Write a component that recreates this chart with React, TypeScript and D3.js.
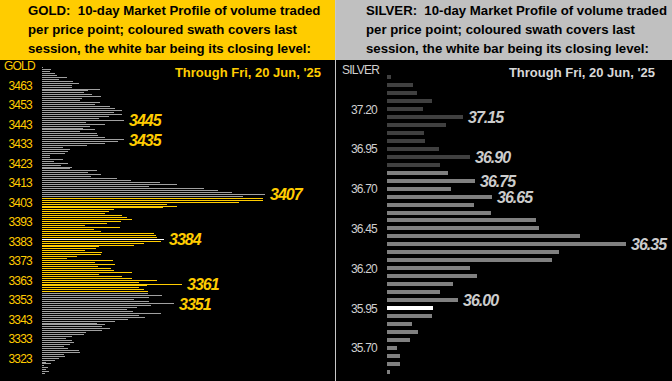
import React from "react";
import * as d3 from "d3";

const W = 672;
const H = 381;

// GOLD: volume per $1 price level, from 3472 (top) down to 3315 (bottom)
const goldTop = 3472;
const goldVolumes = [
  1, 9, 8, 13, 15, 25, 17, 31, 37, 30,
  30, 58, 46, 42, 50, 59, 40, 38, 58, 53,
  68, 73, 80, 72, 80, 67, 57, 82, 44, 63,
  48, 41, 53, 38, 55, 56, 63, 82, 76, 63,
  45, 21, 28, 26, 23, 8, 8, 21, 12, 26,
  19, 30, 28, 55, 46, 59, 49, 75, 89, 118,
  135, 107, 162, 176, 190, 223, 201, 221, 221, 197,
  125, 135, 121, 72, 67, 63, 80, 85, 90, 79,
  65, 43, 78, 52, 59, 112, 114, 115, 122, 119,
  102, 92, 57, 54, 43, 60, 59, 35, 25, 71,
  53, 73, 56, 69, 72, 90, 57, 80, 90, 115,
  97, 140, 105, 97, 102, 106, 106, 120, 107, 92,
  107, 132, 109, 95, 85, 91, 119, 97, 103, 86,
  73, 55, 63, 60, 68, 60, 44, 42, 30, 24,
  30, 32, 28, 22, 26, 37, 38, 22, 23, 17,
  13, 4, 9, 2, 6, 4, 7, 3,
];
const goldPrices = goldVolumes.map((_, i) => goldTop - i);
const goldSwath = [3357, 3405];
const goldClose = 3384;
const goldMarked = [3445, 3435, 3407, 3384, 3361, 3351];
const goldTicks = [3463, 3453, 3443, 3433, 3423, 3413, 3403, 3393, 3383, 3373, 3363, 3353, 3343, 3333, 3323];

// SILVER: volume per $0.05 price level, from 37.40 (top) down to 35.55
const silverPrices = [
  37.4, 37.35, 37.3, 37.25, 37.2, 37.15, 37.1, 37.05, 37.0, 36.95,
  36.9, 36.85, 36.8, 36.75, 36.7, 36.65, 36.6, 36.55, 36.5, 36.45,
  36.4, 36.35, 36.3, 36.25, 36.2, 36.15, 36.1, 36.05, 36.0, 35.95,
  35.9, 35.85, 35.8, 35.75, 35.7, 35.65, 35.6, 35.55,
];
const silverVolumes = [
  4, 26, 30, 45, 36, 76, 59, 37, 38, 52,
  83, 53, 61, 88, 64, 105, 87, 104, 149, 152,
  193, 239, 172, 165, 83, 90, 66, 53, 71, 46,
  45, 25, 31, 23, 10, 13, 13, 3,
];
const silverSwath = [35.55, 36.8];
const silverClose = 35.95;
const silverMarked = [37.15, 36.9, 36.75, 36.65, 36.35, 36.0];
const silverTicks = [37.2, 36.95, 36.7, 36.45, 36.2, 35.95, 35.7];

const goldHeader = [
  "GOLD:  10-day Market Profile of volume traded",
  "per price point; coloured swath covers last",
  "session, the white bar being its closing level:",
];
const silverHeader = [
  "SILVER:  10-day Market Profile of volume traded",
  "per price point; coloured swath covers last",
  "session, the white bar being its closing level:",
];
const throughText = "Through Fri, 20 Jun, '25";

const FONT = "'Liberation Sans', Arial, sans-serif";
const YELLOW = "#FFCC00";

export default function App() {
  const gy = d3.scaleLinear().domain([3407, 3315]).range([194.3, 373.7]);
  const gx = d3.scaleLinear().domain([0, 223]).range([42, 265]);
  const sy = d3.scaleLinear().domain([37.15, 35.95]).range([117, 308]);
  const sx = d3.scaleLinear().domain([0, 239]).range([387, 626]);

  const goldColor = (p: number) =>
    p === goldClose ? "#FFFFFF" : p >= goldSwath[0] && p <= goldSwath[1] ? YELLOW : "#A0A0A0";
  const silverColor = (p: number) =>
    Math.abs(p - silverClose) < 1e-6
      ? "#FFFFFF"
      : p >= silverSwath[0] - 1e-6 && p <= silverSwath[1] + 1e-6
      ? "#808080"
      : "#404040";

  return (
    <svg
      width={W}
      height={H}
      style={{ position: "absolute", left: 0, top: 0, display: "block" }}
      fontFamily={FONT}
    >
      <rect x={0} y={0} width={W} height={H} fill="#000" />
      {/* Gold panel header */}
      <rect x={0} y={0} width={335} height={60} fill={YELLOW} />
      {/* Silver panel header */}
      <rect x={336} y={0} width={336} height={60} fill="#C0C0C0" />
      {/* separator */}
      <rect x={335} y={0} width={1} height={H} fill="#C8C8C8" />

      {goldHeader.map((t, i) => (
        <text
          key={"gh" + i}
          x={28}
          y={15 + i * 19}
          fontSize={13.2}
          fontWeight="bold"
          fill="#000"
          style={{ whiteSpace: "pre" }}
        >
          {t}
        </text>
      ))}
      {silverHeader.map((t, i) => (
        <text
          key={"sh" + i}
          x={366}
          y={15 + i * 19}
          fontSize={13.2}
          fontWeight="bold"
          fill="#000"
          style={{ whiteSpace: "pre" }}
        >
          {t}
        </text>
      ))}

      {/* Gold body */}
      <text x={4} y={70} fontSize={12} letterSpacing={-0.8} fill={YELLOW}>GOLD</text>
      <text x={321} y={77} fontSize={13} fontWeight="bold" fill={YELLOW} textAnchor="end">
        {throughText}
      </text>
      {goldTicks.map((t) => (
        <text
          key={"gt" + t}
          x={32}
          y={gy(t) + 0.8}
          fontSize={12}
          letterSpacing={-0.8}
          fill={YELLOW}
          textAnchor="end"
          dominantBaseline="central"
        >
          {t}
        </text>
      ))}
      <g shapeRendering="crispEdges">
        {goldPrices.map((p, i) => (
          <rect
            key={"gb" + p}
            x={gx(0)}
            y={gy(p) - 0.5}
            width={gx(goldVolumes[i]) - gx(0)}
            height={1}
            fill={goldColor(p)}
          />
        ))}
      </g>
      {goldMarked.map((p) => {
        const v = goldVolumes[goldPrices.indexOf(p)];
        return (
          <text
            key={"gm" + p}
            x={gx(v) + 5}
            y={gy(p) + 0.5}
            fontSize={16}
            fontWeight="bold"
            fontStyle="italic"
            letterSpacing={-1}
            fill={YELLOW}
            dominantBaseline="central"
          >
            {p}
          </text>
        );
      })}

      {/* Silver body */}
      <text x={342} y={74} fontSize={12} letterSpacing={-0.8} fill="#D0D0D0">SILVER</text>
      <text x={655} y={77} fontSize={13} fontWeight="bold" fill="#D8D8D8" textAnchor="end">
        {throughText}
      </text>
      {silverTicks.map((t) => (
        <text
          key={"st" + t}
          x={377}
          y={sy(t) + 0.5}
          fontSize={12}
          letterSpacing={-0.8}
          fill="#D0D0D0"
          textAnchor="end"
          dominantBaseline="central"
        >
          {t.toFixed(2)}
        </text>
      ))}
      <g shapeRendering="crispEdges">
        {silverPrices.map((p, i) => (
          <rect
            key={"sb" + p}
            x={sx(0)}
            y={sy(p) - 2}
            width={sx(silverVolumes[i]) - sx(0)}
            height={4}
            fill={silverColor(p)}
          />
        ))}
      </g>
      {silverMarked.map((p) => {
        const idx = silverPrices.findIndex((q) => Math.abs(q - p) < 1e-6);
        const v = silverVolumes[idx];
        return (
          <text
            key={"sm" + p}
            x={sx(v) + 5}
            y={sy(p) + 0.5}
            fontSize={16}
            fontWeight="bold"
            fontStyle="italic"
            letterSpacing={-1}
            fill="#CCCCCC"
            dominantBaseline="central"
          >
            {p.toFixed(2)}
          </text>
        );
      })}
    </svg>
  );
}
